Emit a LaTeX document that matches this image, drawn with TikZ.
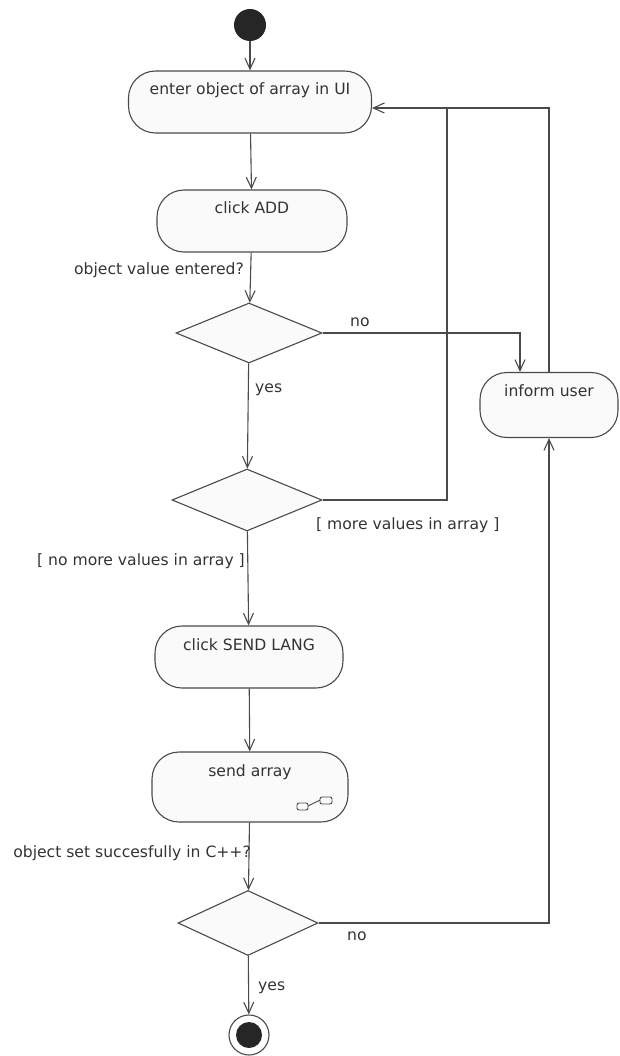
\documentclass[tikz,border=0pt]{standalone}
\usepackage{fontspec}
\setmainfont{DejaVu Sans}
\usetikzlibrary{arrows.meta,shapes.geometric}
\definecolor{linegray}{HTML}{4A4A4A}
\definecolor{textgray}{HTML}{333333}
\definecolor{boxfill}{HTML}{FAFAFA}

\begin{document}
\begin{tikzpicture}[x=1pt,y=-1pt,
  font=\fontsize{15.6}{18}\selectfont,text=textgray,
  >={Straight Barb[length=11pt,width=10pt]},
  wire/.style={draw=linegray,line width=1.1pt},
  flow/.style={wire,->},
  activity/.style={draw=linegray,line width=1.1pt,fill=boxfill,rounded corners=27pt,
    text height=16pt,text depth=30pt,inner ysep=8pt,inner xsep=4pt},
  choice/.style={diamond,draw=linegray,line width=1.1pt,fill=boxfill,inner sep=0pt},
  guard/.style={inner sep=0pt}]
\useasboundingbox (0,0) rectangle (620,1056);

% actions and decisions
\node[circle,fill=black!85,minimum size=32pt,inner sep=0pt] (start) at (250,25) {};
\node[activity,minimum width=243pt] (enter) at (250,102) {enter object of array in UI};
\node[activity,minimum width=190pt] (add) at (252,221) {click ADD};
\node[choice,minimum width=146pt,minimum height=60pt] (d1) at (249,333) {};
\node[activity,minimum width=138pt,text depth=33pt] (inform) at (549,405) {inform user};
\node[choice,minimum width=150pt,minimum height=62pt] (d2) at (247,500) {};
\node[activity,minimum width=188pt] (sendlang) at (249,657) {click SEND LANG};
\node[activity,minimum width=196pt,text depth=38pt] (sendarr) at (250,787) {send array};
\node[choice,minimum width=140pt,minimum height=65pt] (d3) at (248,923) {};
\node[circle,draw=linegray,line width=1.1pt,minimum size=40pt,inner sep=0pt] (stop) at (249,1035) {};
\fill[black!85] (stop) circle (13pt);

% sub-activity mark
\draw[wire,line width=0.9pt,rounded corners=2pt] (297,803) rectangle (308,810);
\draw[wire,line width=0.9pt,rounded corners=2pt] (320,797) rectangle (332,804);
\draw[wire,line width=0.9pt] (308,806) -- (320,800);

% flows
\coordinate (loop) at (447,108);
\draw[flow] (start) -- (enter);
\draw[flow] (enter) -- (add);
\draw[flow] (add) -- (d1);
\draw[flow] (d1.east) -| ([xshift=-29pt]inform.north);
\draw[flow] (d1) -- (d2);
\draw[wire] (d2.east) -| (loop);
\draw[flow] (inform.north) |- ([yshift=-6pt]enter.east);
\draw[flow] (d2) -- (sendlang);
\draw[flow] (sendlang) -- (sendarr);
\draw[flow] (sendarr) -- (d3);
\draw[flow] (d3.east) -| (inform.south);
\draw[flow] (d3) -- (stop);

% guards
\node[guard,anchor=east] (q1) at (244,270) {object value entered?};
\node[guard,anchor=west] (no1) at (350,322) {no};
\node[guard,anchor=west] (yes1) at (255,390) {yes};
\node[guard,anchor=west] (more) at (316,525) {[ more values in array ]};
\node[guard,anchor=east] (nomore) at (245,561) {[ no more values in array ]};
\node[guard,anchor=east] (q2) at (251,853) {object set succesfully in C++?};
\node[guard,anchor=west] (no2) at (347,936) {no};
\node[guard,anchor=west] (yes2) at (258,988) {yes};
\end{tikzpicture}
\end{document}
